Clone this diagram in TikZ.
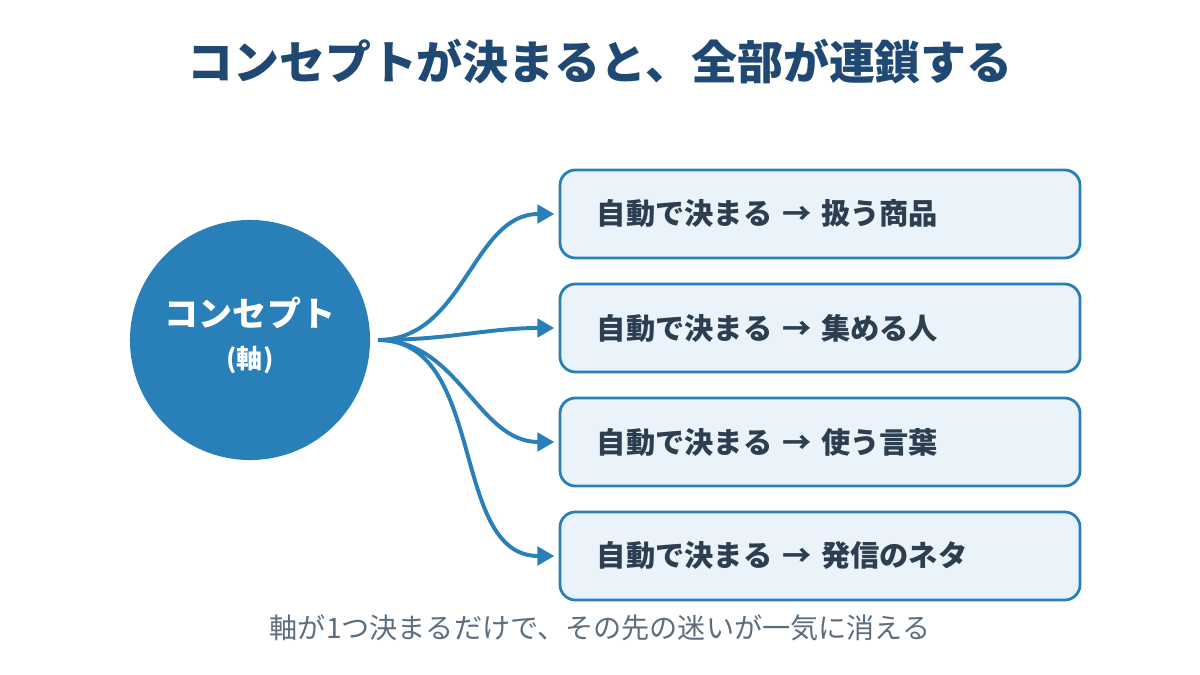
\documentclass[tikz,border=0pt]{standalone}
\usepackage{fontspec}
\setmainfont{Noto Sans CJK JP}
\usepackage{tikz}
\usetikzlibrary{arrows.meta,positioning}
\definecolor{axisblue}{RGB}{41,128,185}
\definecolor{boxfill}{RGB}{234,242,250}
\definecolor{titlec}{RGB}{31,73,115}
\definecolor{textc}{RGB}{44,62,80}
\definecolor{notec}{RGB}{93,109,126}
\tikzset{
  result/.style={draw=axisblue,line width=2pt,fill=boxfill,rounded corners=11pt,
    minimum width=13cm,minimum height=2.2cm,text width=11.15cm,align=left,
    font=\bfseries\fontsize{20.8}{24}\selectfont,text=textc},
  link/.style={axisblue,line width=2.8pt,-{Triangle[length=12pt,width=13pt]},shorten >=3pt}
}

\begin{document}
\begin{tikzpicture}[x=0.025cm,y=0.025cm]
  \useasboundingbox (0,0) rectangle (1200,675);
  \node[font=\bfseries\fontsize{32.7}{36}\selectfont,text=titlec] (title) at (600,613) {コンセプトが決まると、全部が連鎖する};
  \node[circle,fill=axisblue,minimum size=6cm] (axis) at (250,335) {};
  \node[font=\bfseries\fontsize{24.2}{28}\selectfont,text=white] (axisname) at (250,362) {コンセプト};
  \node[font=\bfseries\fontsize{18.5}{20}\selectfont,text=white] (axissub) at (250,315) {(軸)};
  \coordinate (hub) at (378,335);
  \foreach \i/\y/\txt in {1/461/扱う商品,2/347/集める人,3/233/使う言葉,4/119/発信のネタ} {
    \node[result] (r\i) at (820,\y) {自動で決まる → \txt};
    \draw[link] (hub) to[out=0,in=180] (r\i.west);
  }
  \node[font=\fontsize{20}{24}\selectfont,text=notec] (note) at (600,47) {軸が1つ決まるだけで、その先の迷いが一気に消える};
\end{tikzpicture}
\end{document}
